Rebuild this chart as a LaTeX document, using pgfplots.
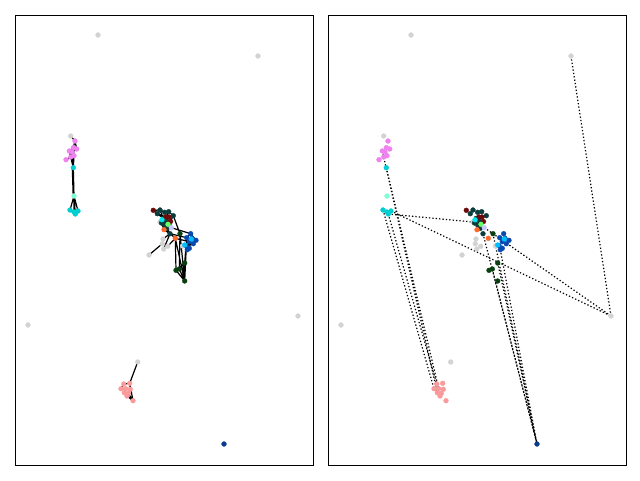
\documentclass[border=0pt]{standalone}
\usepackage{pgfplots}
\pgfplotsset{compat=1.18}
\definecolor{cgrey}{HTML}{D3D3D3}
\definecolor{cpink}{HTML}{EE82EE}
\definecolor{cteal}{HTML}{00CED1}
\definecolor{caqua}{HTML}{7FFFD4}
\definecolor{cmaroon}{HTML}{6B0A0A}
\definecolor{cdteal}{HTML}{0B3D3D}
\definecolor{ccyan}{HTML}{00E5EE}
\definecolor{clgreen}{HTML}{66FF66}
\definecolor{clav}{HTML}{C8C8FF}
\definecolor{corange}{HTML}{FF6A2A}
\definecolor{cdgreen}{HTML}{0A4010}
\definecolor{cblue}{HTML}{0A4AB0}
\definecolor{clblue}{HTML}{00BFFF}
\definecolor{csalmon}{HTML}{FA9A9A}
\definecolor{cnavy}{HTML}{0A3C8C}
\pgfplotsset{nd/.style={only marks, mark=*, mark size=2.4pt, color=#1, mark options={draw=#1, fill=#1, solid, line width=0.4pt}}}
\newcommand\drawnodes{%
\addplot[nd=cgrey] coordinates {(98,35)(258,56)(28,325)(298,316)(149,255)(137.7,362)(70.7,136)(163,239)(162.3,243.7)(167.7,246.3)(163.7,249)(160,222)(182.5,246)};
\addplot[nd=cpink] coordinates {(75,141)(73.3,147.7)(76.7,149)(69.3,151)(72,152)(74,155.7)(70.7,157)(66,159.7)};
\addplot[nd=cteal] coordinates {(73.3,167.7)(70,210)(74,212)(78,211)(75.3,214)};
\addplot[nd=caqua] coordinates {(74,196)};
\addplot[nd=cdteal] coordinates {(160,210)(164.7,212.3)(168.7,211.7)(157.3,213.7)(173.3,215.7)(163.3,218.3)(164.7,225)(167.3,228.3)(170,233.7)(161.5,223)(166.5,221)};
\addplot[nd=cmaroon] coordinates {(153.3,210.3)(166,217)(169,217)(170.5,221.5)};
\addplot[nd=ccyan] coordinates {(162,219.7)};
\addplot[nd=clgreen] coordinates {(168,224.3)};
\addplot[nd=clav] coordinates {(171.3,227.7)};
\addplot[nd=corange] coordinates {(164,229.7)(175.3,238.3)};
\addplot[nd=cdgreen] coordinates {(180,233.7)(184.7,263)(179.3,269)(176,270.3)(184.7,281)};
\addplot[nd=cblue] coordinates {(190.7,233.7)(186.7,237.7)(192,238.3)(189.3,241.7)(196,240.3)(193.3,243.7)(189.3,248.3)(187.3,249.7)(186,245.5)};
\addplot[nd=clblue] coordinates {(191.3,239)(184.7,245)};
\addplot[nd=csalmon] coordinates {(129.7,383.3)(123.7,384)(121,388.7)(125.7,388.7)(130.3,389.3)(124.3,392.7)(128.3,393.3)(127,396)(133,400.7)};
\addplot[nd=cnavy] coordinates {(224,444)};
}
\pgfplotsset{netaxis/.style={anchor=south west, width=298pt, height=450pt, scale only axis,
  xmin=15, xmax=313, ymin=15, ymax=465, y dir=reverse, xtick=\empty, ytick=\empty,
  axis line style={line width=0.9pt}, unbounded coords=jump}}
\begin{document}
\begin{tikzpicture}[x=1pt,y=1pt]
\path (0,0) rectangle (640,480);
\begin{axis}[netaxis, at={(15pt,15pt)}]
\addplot[black, line width=1.2pt] coordinates {
(70.7,136)(75,141) (nan,nan)
(75,141)(73.3,147.7) (nan,nan)
(75,141)(76.7,149) (nan,nan)
(73.3,147.7)(69.3,151) (nan,nan)
(76.7,149)(72,152) (nan,nan)
(73.3,147.7)(74,155.7) (nan,nan)
(69.3,151)(70.7,157) (nan,nan)
(72,152)(70.7,157) (nan,nan)
(74,155.7)(66,159.7) (nan,nan)
(70.7,157)(73.3,167.7) (nan,nan)
(74,155.7)(73.3,167.7) (nan,nan)
(72,152)(73.3,167.7) (nan,nan)
(73.3,167.7)(74,196) (nan,nan)
(72.3,167.7)(73.2,196) (nan,nan)
(74,196)(70,210) (nan,nan)
(74,196)(74,212) (nan,nan)
(74,196)(78,211) (nan,nan)
(74,196)(75.3,214) (nan,nan)
(70,210)(75.3,214) (nan,nan)
(78,211)(75.3,214) (nan,nan)
(153.3,210.3)(160,210) (nan,nan)
(160,210)(164.7,212.3) (nan,nan)
(164.7,212.3)(168.7,211.7) (nan,nan)
(157.3,213.7)(163.3,218.3) (nan,nan)
(160,210)(163.3,218.3) (nan,nan)
(168.7,211.7)(173.3,215.7) (nan,nan)
(168.7,211.7)(166,217) (nan,nan)
(173.3,215.7)(170.5,221.5) (nan,nan)
(163.3,218.3)(161.5,223) (nan,nan)
(166,217)(164.7,225) (nan,nan)
(162,219.7)(167.3,228.3) (nan,nan)
(164.7,225)(170,233.7) (nan,nan)
(167.3,228.3)(170,233.7) (nan,nan)
(170.5,221.5)(171.3,227.7) (nan,nan)
(164,229.7)(170,233.7) (nan,nan)
(161.5,223)(164,229.7) (nan,nan)
(153.3,210.3)(163.3,218.3) (nan,nan)
(157.3,213.7)(166,217) (nan,nan)
(170,233.7)(186.7,237.7) (nan,nan)
(171.3,227.7)(190.7,233.7) (nan,nan)
(170,233.7)(175.3,238.3) (nan,nan)
(175.3,238.3)(189.3,241.7) (nan,nan)
(173.3,215.7)(180,233.7) (nan,nan)
(186.7,237.7)(190.7,233.7) (nan,nan)
(190.7,233.7)(196,240.3) (nan,nan)
(192,238.3)(189.3,248.3) (nan,nan)
(186,245.5)(193.3,243.7) (nan,nan)
(189.3,241.7)(187.3,249.7) (nan,nan)
(184.7,281)(175.3,238.3) (nan,nan)
(184.7,281)(180,233.7) (nan,nan)
(184.7,281)(186.7,237.7) (nan,nan)
(184.7,281)(184.7,263) (nan,nan)
(184.7,281)(179.3,269) (nan,nan)
(184.7,281)(176,270.3) (nan,nan)
(176,270.3)(184.7,263) (nan,nan)
(179.3,269)(180,233.7) (nan,nan)
(176,270.3)(175.3,238.3) (nan,nan)
(184.7,263)(186,245.5) (nan,nan)
(149,255)(162.3,243.7) (nan,nan)
(163,239)(170,233.7) (nan,nan)
(167.7,246.3)(175.3,238.3) (nan,nan)
(163.7,249)(170,233.7) (nan,nan)
(137.7,362)(129.7,383.3) (nan,nan)
(129.7,383.3)(123.7,384) (nan,nan)
(123.7,384)(121,388.7) (nan,nan)
(129.7,383.3)(130.3,389.3) (nan,nan)
(121,388.7)(125.7,388.7) (nan,nan)
(125.7,388.7)(124.3,392.7) (nan,nan)
(130.3,389.3)(128.3,393.3) (nan,nan)
(124.3,392.7)(127,396) (nan,nan)
(128.3,393.3)(133,400.7) (nan,nan)
(129.7,383.3)(133,400.7) (nan,nan)
(127,396)(133,400.7)
};
\drawnodes
\end{axis}
\begin{axis}[netaxis, at={(328pt,15pt)}]
\addplot[black, line width=1.2pt, dash pattern=on 1.3pt off 2.1pt] coordinates {
(75.3,214)(160,222) (nan,nan)
(78,211)(298,316) (nan,nan)
(171.3,227.7)(298,316) (nan,nan)
(258,56)(298,316) (nan,nan)
(70,210)(121,388.7) (nan,nan)
(75.3,214)(123.7,384) (nan,nan)
(73.3,167.7)(125.7,388.7) (nan,nan)
(69.3,151)(124.3,392.7) (nan,nan)
(170,233.7)(224,444) (nan,nan)
(180,233.7)(224,444) (nan,nan)
(184.7,263)(224,444) (nan,nan)
(179.3,269)(224,444) (nan,nan)
(187.3,249.7)(224,444)
};
\drawnodes
\end{axis}
\end{tikzpicture}
\end{document}
